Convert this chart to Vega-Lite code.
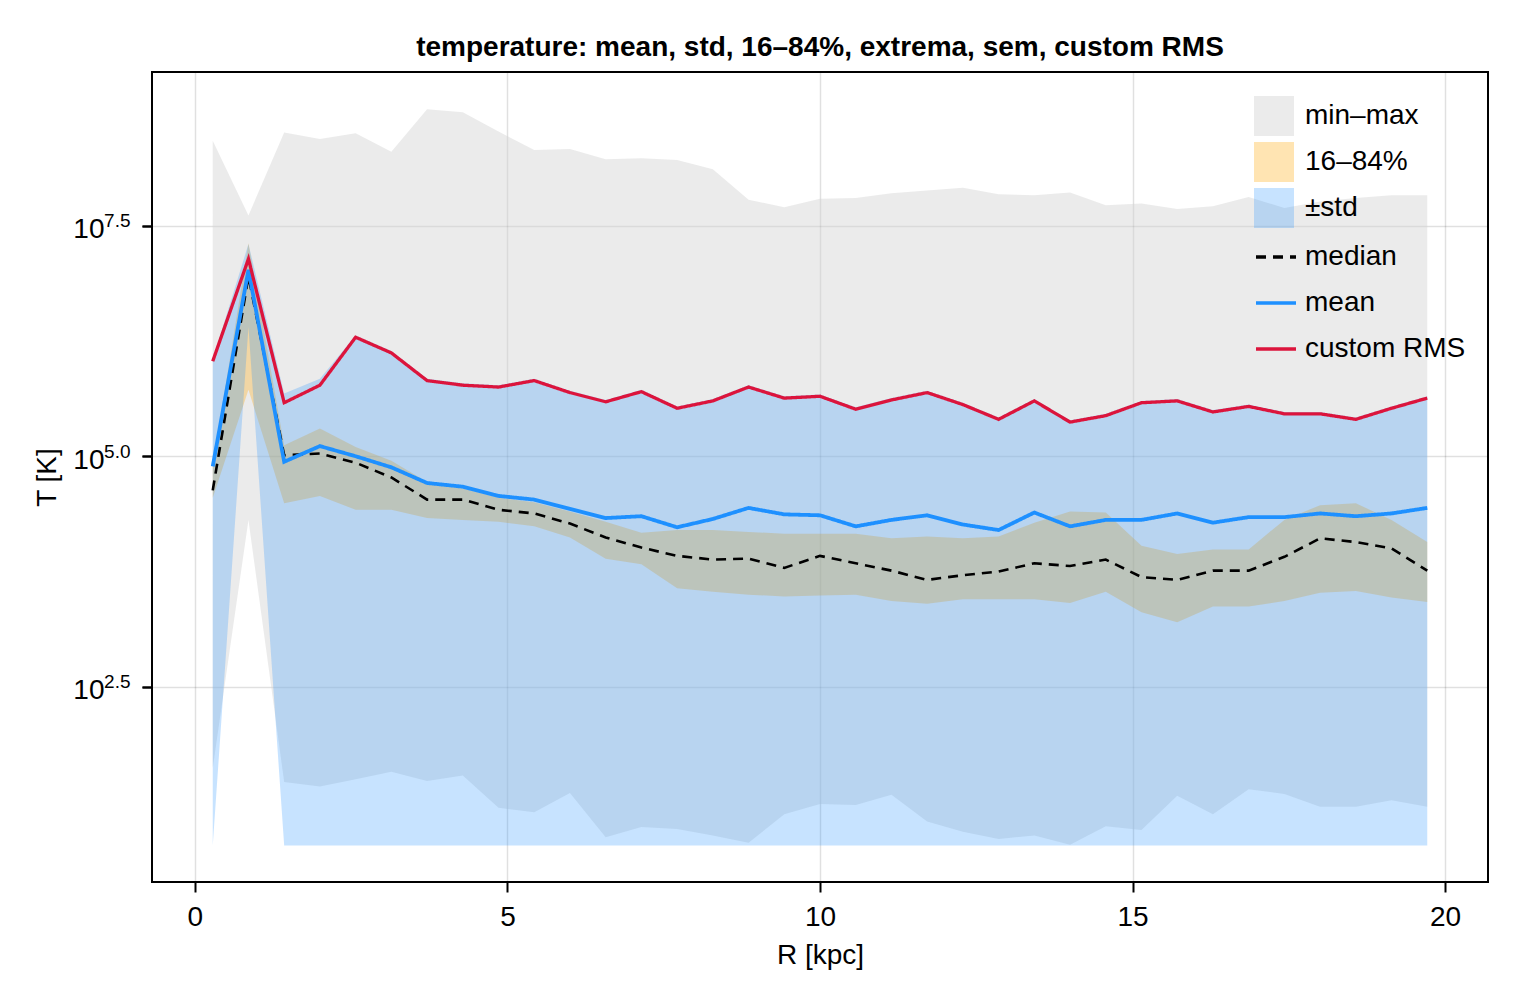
{
  "$schema": "https://vega.github.io/schema/vega-lite/v6.json",
  "width": 1336,
  "height": 810,
  "autosize": "none",
  "padding": {"left": 152, "top": 72, "right": 32, "bottom": 118},
  "title": {
    "text": "temperature: mean, std, 16–84%, extrema, sem, custom RMS",
    "fontSize": 28,
    "fontWeight": "bold",
    "font": "Liberation Sans",
    "color": "black",
    "anchor": "middle",
    "frame": "group",
    "baseline": "alphabetic",
    "offset": 18,
    "dy": 30
  },
  "config": {
    "font": "Liberation Sans",
    "view": {"stroke": "black", "strokeWidth": 2},
    "axis": {"labelColor": "black", "titleColor": "black", "labelFont": "Liberation Sans", "titleFont": "Liberation Sans"},
    "legend": {"labelColor": "black", "labelFont": "Liberation Sans", "labelLimit": 400}
  },
  "data": {
    "values": [
      {"R": 0.2857, "max": 8.42, "min": 1.62, "p16": 4.55, "p84": 4.90, "slo": 0.78, "shi": 6.05, "median": 4.63, "mean": 4.89, "custom RMS": 6.03},
      {"R": 0.8571, "max": 7.61, "min": 4.31, "p16": 5.72, "p84": 7.31, "slo": 6.40, "shi": 7.30, "median": 6.95, "mean": 7.02, "custom RMS": 7.14},
      {"R": 1.4286, "max": 8.51, "min": 1.47, "p16": 4.49, "p84": 5.12, "slo": 0.78, "shi": 5.68, "median": 5.01, "mean": 4.94, "custom RMS": 5.58},
      {"R": 2.0, "max": 8.44, "min": 1.42, "p16": 4.57, "p84": 5.30, "slo": 0.78, "shi": 5.84, "median": 5.03, "mean": 5.11, "custom RMS": 5.77},
      {"R": 2.5714, "max": 8.50, "min": 1.50, "p16": 4.42, "p84": 5.10, "slo": 0.78, "shi": 6.31, "median": 4.93, "mean": 5.00, "custom RMS": 6.29},
      {"R": 3.1429, "max": 8.30, "min": 1.58, "p16": 4.42, "p84": 4.95, "slo": 0.78, "shi": 6.14, "median": 4.77, "mean": 4.88, "custom RMS": 6.12},
      {"R": 3.7143, "max": 8.76, "min": 1.48, "p16": 4.33, "p84": 4.72, "slo": 0.78, "shi": 5.84, "median": 4.53, "mean": 4.71, "custom RMS": 5.82},
      {"R": 4.2857, "max": 8.73, "min": 1.54, "p16": 4.31, "p84": 4.65, "slo": 0.78, "shi": 5.79, "median": 4.53, "mean": 4.67, "custom RMS": 5.77},
      {"R": 4.8571, "max": 8.52, "min": 1.19, "p16": 4.29, "p84": 4.55, "slo": 0.78, "shi": 5.77, "median": 4.42, "mean": 4.57, "custom RMS": 5.75},
      {"R": 5.4286, "max": 8.32, "min": 1.14, "p16": 4.24, "p84": 4.50, "slo": 0.78, "shi": 5.84, "median": 4.38, "mean": 4.53, "custom RMS": 5.82},
      {"R": 6.0, "max": 8.33, "min": 1.35, "p16": 4.12, "p84": 4.40, "slo": 0.78, "shi": 5.71, "median": 4.27, "mean": 4.43, "custom RMS": 5.69},
      {"R": 6.5714, "max": 8.22, "min": 0.87, "p16": 3.89, "p84": 4.29, "slo": 0.78, "shi": 5.61, "median": 4.12, "mean": 4.33, "custom RMS": 5.59},
      {"R": 7.1429, "max": 8.23, "min": 0.98, "p16": 3.83, "p84": 4.17, "slo": 0.78, "shi": 5.72, "median": 4.01, "mean": 4.35, "custom RMS": 5.70},
      {"R": 7.7143, "max": 8.21, "min": 0.96, "p16": 3.57, "p84": 4.20, "slo": 0.78, "shi": 5.54, "median": 3.92, "mean": 4.23, "custom RMS": 5.52},
      {"R": 8.2857, "max": 8.11, "min": 0.89, "p16": 3.53, "p84": 4.20, "slo": 0.78, "shi": 5.62, "median": 3.88, "mean": 4.32, "custom RMS": 5.60},
      {"R": 8.8571, "max": 7.78, "min": 0.81, "p16": 3.50, "p84": 4.18, "slo": 0.78, "shi": 5.77, "median": 3.89, "mean": 4.44, "custom RMS": 5.75},
      {"R": 9.4286, "max": 7.70, "min": 1.12, "p16": 3.48, "p84": 4.16, "slo": 0.78, "shi": 5.65, "median": 3.79, "mean": 4.37, "custom RMS": 5.63},
      {"R": 10.0, "max": 7.79, "min": 1.23, "p16": 3.49, "p84": 4.16, "slo": 0.78, "shi": 5.67, "median": 3.92, "mean": 4.36, "custom RMS": 5.65},
      {"R": 10.5714, "max": 7.80, "min": 1.22, "p16": 3.50, "p84": 4.16, "slo": 0.78, "shi": 5.53, "median": 3.84, "mean": 4.24, "custom RMS": 5.51},
      {"R": 11.1429, "max": 7.85, "min": 1.33, "p16": 3.43, "p84": 4.11, "slo": 0.78, "shi": 5.63, "median": 3.76, "mean": 4.31, "custom RMS": 5.61},
      {"R": 11.7143, "max": 7.88, "min": 1.04, "p16": 3.40, "p84": 4.13, "slo": 0.78, "shi": 5.71, "median": 3.66, "mean": 4.36, "custom RMS": 5.69},
      {"R": 12.2857, "max": 7.91, "min": 0.93, "p16": 3.45, "p84": 4.11, "slo": 0.78, "shi": 5.58, "median": 3.71, "mean": 4.26, "custom RMS": 5.56},
      {"R": 12.8571, "max": 7.84, "min": 0.85, "p16": 3.45, "p84": 4.13, "slo": 0.78, "shi": 5.42, "median": 3.75, "mean": 4.20, "custom RMS": 5.40},
      {"R": 13.4286, "max": 7.83, "min": 0.89, "p16": 3.45, "p84": 4.28, "slo": 0.78, "shi": 5.62, "median": 3.84, "mean": 4.39, "custom RMS": 5.60},
      {"R": 14.0, "max": 7.86, "min": 0.79, "p16": 3.41, "p84": 4.40, "slo": 0.78, "shi": 5.39, "median": 3.81, "mean": 4.24, "custom RMS": 5.37},
      {"R": 14.5714, "max": 7.72, "min": 0.99, "p16": 3.53, "p84": 4.39, "slo": 0.78, "shi": 5.46, "median": 3.88, "mean": 4.31, "custom RMS": 5.44},
      {"R": 15.1429, "max": 7.74, "min": 0.95, "p16": 3.31, "p84": 4.03, "slo": 0.78, "shi": 5.60, "median": 3.69, "mean": 4.31, "custom RMS": 5.58},
      {"R": 15.7143, "max": 7.68, "min": 1.32, "p16": 3.20, "p84": 3.94, "slo": 0.78, "shi": 5.62, "median": 3.66, "mean": 4.38, "custom RMS": 5.60},
      {"R": 16.2857, "max": 7.71, "min": 1.12, "p16": 3.37, "p84": 3.99, "slo": 0.78, "shi": 5.50, "median": 3.76, "mean": 4.28, "custom RMS": 5.48},
      {"R": 16.8571, "max": 7.81, "min": 1.39, "p16": 3.37, "p84": 3.99, "slo": 0.78, "shi": 5.56, "median": 3.76, "mean": 4.34, "custom RMS": 5.54},
      {"R": 17.4286, "max": 7.69, "min": 1.34, "p16": 3.43, "p84": 4.31, "slo": 0.78, "shi": 5.48, "median": 3.91, "mean": 4.34, "custom RMS": 5.46},
      {"R": 18.0, "max": 7.76, "min": 1.20, "p16": 3.52, "p84": 4.47, "slo": 0.78, "shi": 5.48, "median": 4.11, "mean": 4.38, "custom RMS": 5.46},
      {"R": 18.5714, "max": 7.80, "min": 1.20, "p16": 3.54, "p84": 4.49, "slo": 0.78, "shi": 5.42, "median": 4.07, "mean": 4.35, "custom RMS": 5.40},
      {"R": 19.1429, "max": 7.83, "min": 1.27, "p16": 3.47, "p84": 4.31, "slo": 0.78, "shi": 5.54, "median": 4.00, "mean": 4.38, "custom RMS": 5.52},
      {"R": 19.7143, "max": 7.83, "min": 1.20, "p16": 3.42, "p84": 4.07, "slo": 0.78, "shi": 5.65, "median": 3.76, "mean": 4.44, "custom RMS": 5.63}
    ]
  },
  "encoding": {
    "x": {
      "field": "R",
      "type": "quantitative",
      "scale": {"domain": [-0.686, 20.686], "nice": false, "zero": false},
      "axis": {
        "values": [0, 5, 10, 15, 20],
        "format": "d",
        "labelFontSize": 28,
        "labelBaseline": "alphabetic",
        "labelPadding": 33,
        "labelFlush": false,
        "tickSize": 10,
        "tickWidth": 2,
        "tickColor": "black",
        "domain": false,
        "grid": true,
        "gridColor": "black",
        "gridOpacity": 0.12,
        "gridWidth": 1.5,
        "title": "R [kpc]",
        "titleFontSize": 28,
        "titleFontWeight": "normal",
        "titleBaseline": "alphabetic",
        "titleY": 81
      }
    }
  },
  "resolve": {"axis": {"y": "independent"}},
  "layer": [
    {
      "mark": {"type": "area", "strokeWidth": 0},
      "encoding": {
        "y": {
          "field": "max",
          "type": "quantitative",
          "scale": {"domain": [0.385, 9.165], "nice": false, "zero": false},
          "axis": {
            "orient": "left",
            "values": [2.5, 5, 7.5],
            "labelExpr": "'10'",
            "labelFontSize": 28,
            "labelPadding": 38,
            "labelBaseline": "alphabetic",
            "labelOffset": 12,
            "tickSize": 10,
            "tickWidth": 2,
            "tickColor": "black",
            "domain": false,
            "grid": true,
            "gridColor": "black",
            "gridOpacity": 0.12,
            "gridWidth": 1.5,
            "title": "T [K]",
            "titleFontSize": 28,
            "titleFontWeight": "normal",
            "titleAngle": -90,
            "titleAlign": "center",
            "titleBaseline": "alphabetic",
            "titleX": -97,
            "titleY": 405
          }
        },
        "y2": {"field": "min"},
        "fill": {
          "datum": "min–max",
          "type": "nominal",
          "scale": {
            "domain": ["min–max", "16–84%", "±std"],
            "range": ["rgba(211,211,211,0.45)", "rgba(255,165,0,0.3)", "rgba(30,144,255,0.25)"]
          },
          "legend": {
            "orient": "none",
            "legendX": 1102,
            "legendY": 24,
            "title": null,
            "padding": 0,
            "symbolType": "square",
            "symbolSize": 1600,
            "symbolStrokeWidth": 0,
            "symbolOffset": 0,
            "rowPadding": 6,
            "labelFontSize": 28,
            "labelOffset": 11
          }
        }
      }
    },
    {
      "mark": {"type": "area", "strokeWidth": 0},
      "encoding": {
        "y": {"field": "p84", "type": "quantitative", "axis": null},
        "y2": {"field": "p16"},
        "fill": {"datum": "16–84%", "type": "nominal"}
      }
    },
    {
      "mark": {"type": "area", "strokeWidth": 0},
      "encoding": {
        "y": {"field": "shi", "type": "quantitative", "axis": null},
        "y2": {"field": "slo"},
        "fill": {"datum": "±std", "type": "nominal"}
      }
    },
    {
      "transform": [{"fold": ["median", "mean", "custom RMS"], "as": ["series", "value"]}],
      "mark": {"type": "line"},
      "encoding": {
        "y": {
          "field": "value",
          "type": "quantitative",
          "axis": {
            "orient": "left",
            "values": [2.5, 5, 7.5],
            "labelExpr": "format(datum.value, '.1f')",
            "labelFontSize": 19,
            "labelPadding": 12,
            "labelBaseline": "alphabetic",
            "labelOffset": 1,
            "tickSize": 10,
            "tickWidth": 2,
            "tickColor": "black",
            "domain": false,
            "grid": false,
            "title": null
          }
        },
        "stroke": {
          "field": "series",
          "type": "nominal",
          "scale": {"domain": ["median", "mean", "custom RMS"], "range": ["#000000", "#1e90ff", "#dc143c"]},
          "legend": {
            "orient": "none",
            "legendX": 1102,
            "legendY": 163,
            "title": null,
            "padding": 0,
            "symbolType": "stroke",
            "symbolSize": 1600,
            "symbolStrokeWidth": 3.3,
            "symbolOffset": 0,
            "rowPadding": 10,
            "labelFontSize": 28,
            "labelOffset": 7,
            "labelLimit": 400
          }
        },
        "strokeDash": {
          "field": "series",
          "type": "nominal",
          "scale": {"domain": ["median", "mean", "custom RMS"], "range": [[10, 7], [1, 0], [1, 0]]}
        },
        "strokeWidth": {
          "condition": [
            {"test": "datum.series === 'mean'", "value": 3.8},
            {"test": "datum.series === 'median'", "value": 2.6}
          ],
          "value": 3.3
        }
      }
    }
  ]
}
